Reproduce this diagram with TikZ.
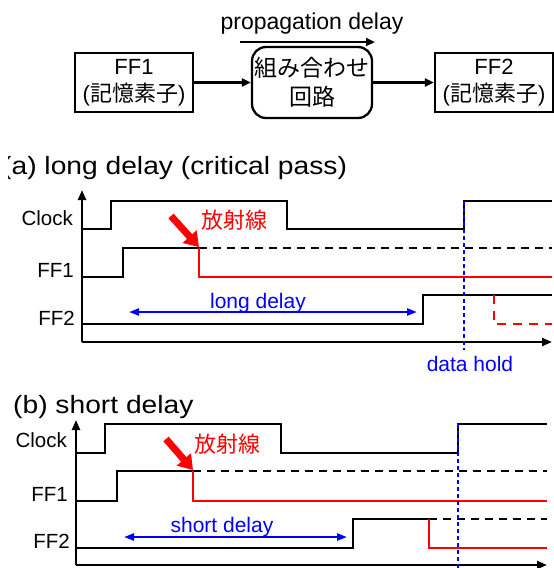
\documentclass[tikz,border=0pt]{standalone}
\usepackage{fontspec}
\setmainfont{Liberation Sans}
\newfontfamily\jp{Noto Sans CJK JP}
\usetikzlibrary{arrows.meta}

\tikzset{
  wire/.style={line width=2.3pt, line join=miter, line cap=butt},
  fault/.style={wire, red},
  faultdash/.style={wire, red, dash pattern=on 9pt off 7pt},
  keep/.style={wire, dash pattern=on 8pt off 6pt},
  holdline/.style={line width=2.5pt, blue, dash pattern=on 4pt off 3pt},
  axis/.style={line width=2.3pt, -{Triangle[length=10pt,width=8pt]}},
  span/.style={line width=2.2pt, blue, {Triangle[length=10pt,width=7pt]}-{Triangle[length=10pt,width=7pt]}},
  hit/.style={red, line width=7pt, -{Triangle[length=14pt,width=18pt]}},
  block/.style={draw, line width=2.3pt, align=center, inner sep=0pt,
    minimum width=118pt, minimum height=59pt, font=\fontsize{22}{27}\selectfont},
  sig/.style={inner sep=0pt, anchor=base east, font=\fontsize{20.5}{24}\selectfont},
  lbl/.style={inner sep=0pt, font=\fontsize{21}{24}\selectfont},
  jlbl/.style={inner sep=0pt, text=red, anchor=base west, font=\fontsize{22}{24}\selectfont\jp},
  ttl/.style={inner sep=0pt, anchor=base west, xscale=1.128, transform shape,
    font=\fontsize{25}{30}\selectfont},
  flow/.style={line width=2.3pt, -{Triangle[length=9pt,width=8pt]}},
}

\begin{document}
\begin{tikzpicture}[x=1pt, y=-1pt]
\useasboundingbox (0,0) rectangle (554,568);

% ---------- block diagram ----------
\node[block] (ff1) at (134,82.5) {FF1\\({\jp 記憶素子})};
\node[block, minimum width=120pt, minimum height=71pt, rounded corners=14pt,
      font=\fontsize{23}{29}\selectfont\jp] (comb) at (312,82.5) {組み合わせ\\回路};
\node[block] (ff2) at (494,82.5) {FF2\\({\jp 記憶素子})};
\draw[flow] (ff1) -- (comb);
\draw[flow] (comb) -- (ff2);
\node[inner sep=0pt, anchor=base, font=\fontsize{23}{26}\selectfont] (prop) at (312,29) {propagation delay};
\coordinate (p0) at (240,42);
\coordinate (p1) at (375,42);
\draw[flow] (p0) -- (p1);

% ---------- (a) long delay ----------
\begin{scope}
  \clip (8,145) rectangle (554,190);
  \node[ttl] (ta) at (2,174) {(a) long delay (critical pass)};
\end{scope}
\draw[axis] (82,342) -- (82,190);
\draw[axis] (82,342) -- (552,342);
\node[sig] (ca) at (73,225) {Clock};
\node[sig] (f1a) at (74,277) {FF1};
\node[sig] (f2a) at (75,325) {FF2};
% clock
\draw[wire] (82,229) -- (111,229) -- (111,201) -- (287,201) -- (287,229) -- (464,229) -- (464,201) -- (552,201);
% FF1: upset by radiation
\draw[wire] (82,277) -- (123,277) -- (123,248) -- (199,248);
\draw[keep] (199,248) -- (552,248);
\draw[fault] (199,248) -- (199,277) -- (552,277);
% FF2
\draw[wire] (82,324) -- (423,324) -- (423,295) -- (552,295);
\draw[faultdash] (494,295) -- (494,324) -- (552,324);
\draw[span] (129,312) -- (417,312);
\node[lbl, anchor=base, text=blue] (lda) at (258,308) {long delay};
\draw[hit] (171,216) -- (199,247);
\node[jlbl] (ra) at (201,228) {放射線};
\draw[holdline] (464,201) -- (464,350);
\node[lbl, anchor=base, text=blue] (dh) at (470,371) {data hold};

% ---------- (b) short delay ----------
\node[ttl] (tb) at (13,413) {(b) short delay};
\draw[axis] (76,565) -- (76,420);
\draw[axis] (76,565) -- (547,565);
\node[sig] (cb) at (67,447) {Clock};
\node[sig] (f1b) at (68,501) {FF1};
\node[sig] (f2b) at (70,548) {FF2};
% clock
\draw[wire] (76,453) -- (105,453) -- (105,424) -- (281,424) -- (281,453) -- (458,453) -- (458,424) -- (547,424);
% FF1: upset by radiation
\draw[wire] (76,501) -- (117,501) -- (117,471) -- (193,471);
\draw[keep] (193,471) -- (547,471);
\draw[fault] (193,471) -- (193,501) -- (547,501);
% FF2: latches the corrupted value
\draw[wire] (76,548) -- (353,548) -- (353,519) -- (429,519);
\draw[keep] (429,519) -- (547,519);
\draw[fault] (429,519) -- (429,548) -- (547,548);
\draw[span] (124,537) -- (347,537);
\node[lbl, anchor=base, text=blue] (sdb) at (222,532) {short delay};
\draw[hit] (166,439) -- (193,470);
\node[jlbl] (rb) at (194,452) {放射線};
\draw[holdline] (458,424) -- (458,568);
\end{tikzpicture}
\end{document}
